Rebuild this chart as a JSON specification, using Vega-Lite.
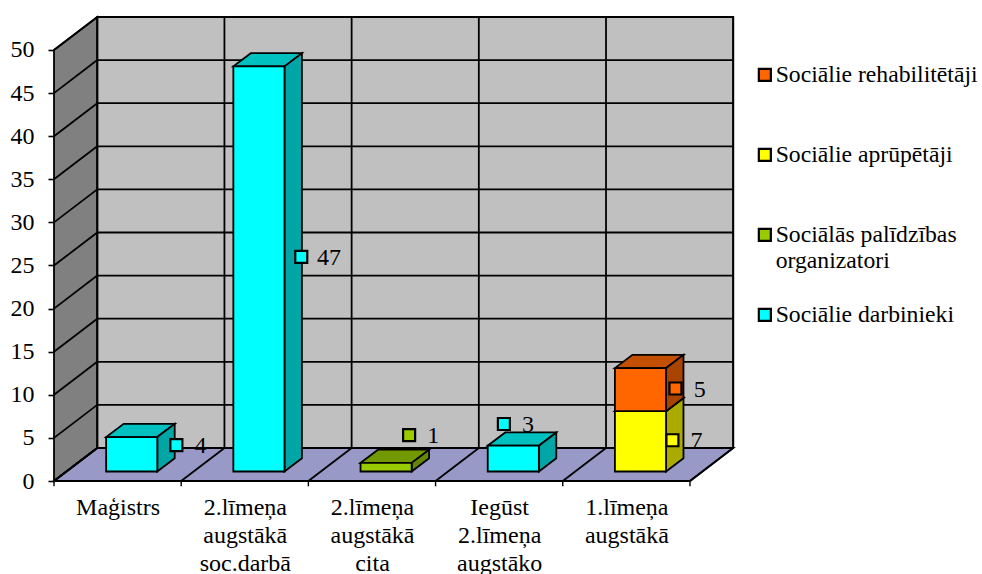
{
"$schema":"https://vega.github.io/schema/vega-lite/v6.json",
"width":928,"height":481,
"autosize":"none",
"padding":{"left":54,"top":0,"right":0,"bottom":93},
"background":"white",
"config":{"view":{"stroke":null},"font":"Liberation Serif"},
"params":[
{"name":"dx","value":0.34},
{"name":"dy","value":3.83},
{"name":"bdx","value":0.137},
{"name":"bdy","value":1.53},
{"name":"cats","value":["Maģistrs","2.līmeņa augstākā soc.darbā","2.līmeņa augstākā cita","Iegūst 2.līmeņa augstāko","1.līmeņa augstākā"]}
],
"datasets":{
"bars":[
{"category":"Maģistrs","series":"Sociālie darbinieki","value":4},
{"category":"2.līmeņa augstākā soc.darbā","series":"Sociālie darbinieki","value":47},
{"category":"2.līmeņa augstākā cita","series":"Sociālās palīdzības organizatori","value":1},
{"category":"Iegūst 2.līmeņa augstāko","series":"Sociālie darbinieki","value":3},
{"category":"1.līmeņa augstākā","series":"Sociālie aprūpētāji","value":7},
{"category":"1.līmeņa augstākā","series":"Sociālie rehabilitētāji","value":5}
],
"ticks":[{"t":0},{"t":5},{"t":10},{"t":15},{"t":20},{"t":25},{"t":30},{"t":35},{"t":40},{"t":45},{"t":50}],
"bounds":[{"k":0},{"k":1},{"k":2},{"k":3},{"k":4},{"k":5}]
},
"encoding":{
"x":{"field":"px","type":"quantitative","stack":null,"scale":{"domain":[0,7.296],"nice":false,"zero":false},
"axis":{"title":null,"values":[0.5,1.5,2.5,3.5,4.5],"domain":false,"grid":false,"ticks":false,"labelPadding":14.5,"labelFont":"Liberation Serif","labelFontSize":24,"labelColor":"black","labelLineHeight":28,"labelBaseline":"top","labelOverlap":false,"labelFlush":false,"labelLimit":300,"labelExpr":"split(cats[floor(datum.value)],' ')"}},
"y":{"field":"py","type":"quantitative","stack":null,"scale":{"domain":[0,55.8],"nice":false,"zero":false},
"axis":{"title":null,"values":[0,5,10,15,20,25,30,35,40,45,50],"domain":false,"grid":false,"tickColor":"black","tickWidth":1.6,"tickSize":6,"labelPadding":14,"labelFont":"Liberation Serif","labelFontSize":24,"labelColor":"black","labelOverlap":false}}
},
"resolve":{"scale":{"color":"independent"}},
"layer":[
{"data":{"values":[{"surface":"back wall"}]},
"transform":[{"calculate":"dx","as":"px"},{"calculate":"dx+5","as":"px2"},{"calculate":"dy","as":"py"},{"calculate":"dy+50","as":"py2"}],
"mark":{"type":"rect","fill":"#C0C0C0","stroke":"black","strokeWidth":1.8},
"encoding":{"x2":{"field":"px2"},"y2":{"field":"py2"}}},
{"data":{"values":[{"surface":"side wall"}]},
"transform":[{"calculate":"[0,1]","as":"s"},{"flatten":["s"]},{"calculate":"datum.s*dx","as":"px"},{"calculate":"datum.s*dy","as":"py"},{"calculate":"50+datum.s*dy","as":"py2"}],
"mark":{"type":"area","orient":"vertical","fill":"#808080","stroke":"black","strokeWidth":1.8},
"encoding":{"y2":{"field":"py2"}}},
{"data":{"values":[{"surface":"floor"}]},
"transform":[{"calculate":"[0,1]","as":"s"},{"flatten":["s"]},{"calculate":"datum.s*dx","as":"px"},{"calculate":"5+datum.s*dx","as":"px2"},{"calculate":"datum.s*dy","as":"py"}],
"mark":{"type":"area","orient":"horizontal","fill":"#9999C8","stroke":"black","strokeWidth":1.8},
"encoding":{"x2":{"field":"px2"}}},
{"data":{"name":"ticks"},
"transform":[{"calculate":"dx","as":"px"},{"calculate":"dx+5","as":"px2"},{"calculate":"datum.t+dy","as":"py"},{"calculate":"datum.t+dy","as":"py2"}],
"mark":{"type":"rule","stroke":"black","strokeWidth":1.8},
"encoding":{"x2":{"field":"px2"},"y2":{"field":"py2"}}},
{"data":{"name":"ticks"},
"transform":[{"calculate":"0","as":"px"},{"calculate":"dx","as":"px2"},{"calculate":"datum.t","as":"py"},{"calculate":"datum.t+dy","as":"py2"}],
"mark":{"type":"rule","stroke":"black","strokeWidth":1.8},
"encoding":{"x2":{"field":"px2"},"y2":{"field":"py2"}}},
{"data":{"name":"bounds"},
"transform":[{"calculate":"datum.k+dx","as":"px"},{"calculate":"datum.k+dx","as":"px2"},{"calculate":"dy","as":"py"},{"calculate":"dy+50","as":"py2"}],
"mark":{"type":"rule","stroke":"black","strokeWidth":1.8},
"encoding":{"x2":{"field":"px2"},"y2":{"field":"py2"}}},
{"data":{"name":"bounds"},
"transform":[{"calculate":"datum.k","as":"px"},{"calculate":"datum.k+dx","as":"px2"},{"calculate":"0","as":"py"},{"calculate":"dy","as":"py2"}],
"mark":{"type":"rule","stroke":"black","strokeWidth":1.8},
"encoding":{"x2":{"field":"px2"},"y2":{"field":"py2"}}},
{"data":{"name":"bounds"},
"transform":[{"calculate":"datum.k","as":"px"},{"calculate":"datum.k","as":"px2"},{"calculate":"0","as":"py"},{"calculate":"-0.62","as":"py2"}],
"mark":{"type":"rule","stroke":"black","strokeWidth":1.4},
"encoding":{"x2":{"field":"px2"},"y2":{"field":"py2"}}},
{"data":{"name":"bars"},
"transform":[
{"stack":"value","groupby":["category"],"sort":[{"field":"series"}],"as":["y0","y1"]},
{"calculate":"indexof(cats,datum.category)","as":"k"},
{"calculate":"[0,1]","as":"s"},{"flatten":["s"]},
{"calculate":"datum.k+0.41+datum.s*bdx","as":"px"},
{"calculate":"datum.k+0.812+datum.s*bdx","as":"px2"},
{"calculate":"datum.y1+1.1+datum.s*bdy","as":"py"}],
"mark":{"type":"area","orient":"horizontal","stroke":"black","strokeWidth":1.8},
"encoding":{"x2":{"field":"px2"},"detail":{"field":"category"},
"color":{"field":"series","type":"nominal","legend":null,"scale":{"domain":["Sociālie rehabilitētāji","Sociālie aprūpētāji","Sociālās palīdzības organizatori","Sociālie darbinieki"],"range":["#C25000","#BFBF00","#739900","#00C0C0"]}}}},
{"data":{"name":"bars"},
"transform":[
{"stack":"value","groupby":["category"],"sort":[{"field":"series"}],"as":["y0","y1"]},
{"calculate":"indexof(cats,datum.category)","as":"k"},
{"calculate":"[0,1]","as":"s"},{"flatten":["s"]},
{"calculate":"datum.k+0.812+datum.s*bdx","as":"px"},
{"calculate":"datum.y0+1.1+datum.s*bdy","as":"py"},
{"calculate":"datum.y1+1.1+datum.s*bdy","as":"py2"}],
"mark":{"type":"area","orient":"vertical","stroke":"black","strokeWidth":1.8},
"encoding":{"y2":{"field":"py2"},"detail":{"field":"category"},
"color":{"field":"series","type":"nominal","legend":null,"scale":{"domain":["Sociālie rehabilitētāji","Sociālie aprūpētāji","Sociālās palīdzības organizatori","Sociālie darbinieki"],"range":["#A84400","#AAAA00","#668800","#00A6A6"]}}}},
{"data":{"name":"bars"},
"transform":[
{"stack":"value","groupby":["category"],"sort":[{"field":"series"}],"as":["y0","y1"]},
{"calculate":"indexof(cats,datum.category)","as":"k"},
{"calculate":"datum.k+0.41","as":"px"},
{"calculate":"datum.k+0.812","as":"px2"},
{"calculate":"datum.y0+1.1","as":"py"},
{"calculate":"datum.y1+1.1","as":"py2"}],
"mark":{"type":"rect","stroke":"black","strokeWidth":1.8},
"encoding":{"x2":{"field":"px2"},"y2":{"field":"py2"},
"color":{"field":"series","type":"nominal","scale":{"domain":["Sociālie rehabilitētāji","Sociālie aprūpētāji","Sociālās palīdzības organizatori","Sociālie darbinieki"],"range":["#FF6600","#FFFF00","#99CC00","#00FFFF"]},
"legend":{"title":null,"orient":"none","legendX":699,"legendY":63,"symbolType":"square","symbolSize":144,"symbolStrokeColor":"black","symbolStrokeWidth":2.2,"labelFont":"Liberation Serif","labelFontSize":23.7,"labelLimit":300,"labelColor":"black","labelOffset":-1,"labelBaseline":"top","labelLineHeight":27,"rowPadding":29,"gridAlign":"all","encode":{"labels":{"update":{"dy":{"value":-12}}}},"labelExpr":"datum.label=='Sociālās palīdzības organizatori'?['Sociālās palīdzības','organizatori']:datum.label"}}}},
{"data":{"name":"bars"},
"transform":[
{"stack":"value","groupby":["category"],"sort":[{"field":"series"}],"as":["y0","y1"]},
{"calculate":"indexof(cats,datum.category)","as":"k"},
{"calculate":"datum.k+0.812+bdx+[0.013,-0.005,-0.157,-0.412,datum.series=='Sociālie rehabilitētāji'?-0.063:-0.087][datum.k]","as":"px"},
{"calculate":"(datum.y0+datum.y1)/2+1.1+bdy+[-0.46,-0.14,2.2,2.48,-1.4][datum.k]","as":"py"}],
"mark":{"type":"point","shape":"square","filled":true,"size":144,"stroke":"black","strokeWidth":2.2,"opacity":1},
"encoding":{"color":{"field":"series","type":"nominal","legend":null,"scale":{"domain":["Sociālie rehabilitētāji","Sociālie aprūpētāji","Sociālās palīdzības organizatori","Sociālie darbinieki"],"range":["#FF6600","#FFFF00","#99CC00","#00FFFF"]}}}},
{"data":{"name":"bars"},
"transform":[
{"stack":"value","groupby":["category"],"sort":[{"field":"series"}],"as":["y0","y1"]},
{"calculate":"indexof(cats,datum.category)","as":"k"},
{"calculate":"datum.k+0.812+bdx+0.19+[0.013,0.024,-0.157,-0.412,datum.series=='Sociālie rehabilitētāji'?-0.063:-0.087][datum.k]","as":"px"},
{"calculate":"(datum.y0+datum.y1)/2+1.1+bdy+[-0.46,-0.14,2.2,2.48,-1.4][datum.k]","as":"py"}],
"mark":{"type":"text","font":"Liberation Serif","fontSize":24,"color":"black","align":"center","baseline":"middle","dy":1},
"encoding":{"text":{"field":"value","type":"quantitative"}}}
]
}
